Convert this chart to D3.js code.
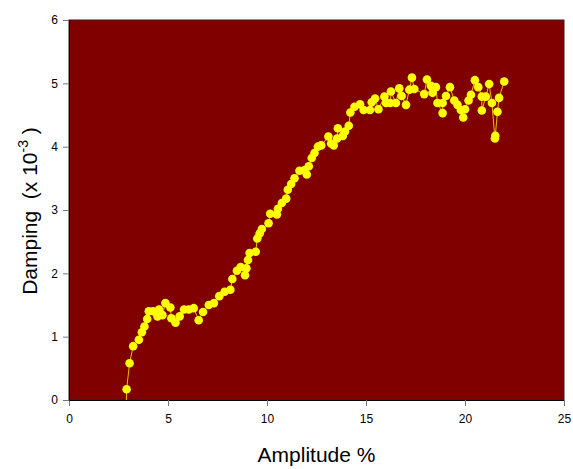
<!DOCTYPE html>
<html>
<head>
    <meta charset="utf-8" />
    <title>Damping vs amplitude</title>
    <style>
        body { margin: 0; background: #fff; }
        .tick text { font-family: Arial, "Liberation Sans", sans-serif; font-size: 12px; fill: #000; }
        .tick line { stroke: #777; }
        .domain { stroke: #000; }
    </style>
    <script src="https://cdn.jsdelivr.net/npm/d3@7"></script>
</head>
<body>
<script>
    // data
    const amplitude = [2.88, 2.91, 3.06, 3.24, 3.53, 3.68, 3.81, 3.95, 4.03, 4.25, 4.47, 4.55, 4.72, 4.87, 5.12, 5.17,
        5.38, 5.59, 5.81, 6.05, 6.30, 6.55, 6.77, 7.06, 7.32, 7.59, 7.86, 8.15, 8.25, 8.48, 8.67, 8.89, 8.96, 9.04,
        9.12, 9.43, 9.51, 9.63, 9.74, 10.08, 10.16, 10.50, 10.55, 10.75, 10.97, 11.05, 11.22, 11.39, 11.64, 11.90,
        12.01, 12.11, 12.26, 12.40, 12.57, 12.74, 13.10, 13.24, 13.37, 13.54, 13.58, 13.83, 13.94, 14.13, 14.21,
        14.42, 14.70, 14.88, 15.20, 15.29, 15.46, 15.63, 15.93, 16.01, 16.23, 16.26, 16.51, 16.68, 16.80, 17.02,
        17.19, 17.32, 17.44, 17.94, 18.08, 18.28, 18.36, 18.53, 18.61, 18.87, 18.87, 19.04, 19.24, 19.46, 19.62,
        19.79, 19.91, 20.00, 20.18, 20.30, 20.50, 20.67, 20.85, 20.85, 21.05, 21.22, 21.36, 21.51, 21.53, 21.64,
        21.72, 21.98];
    const damping = [-0.3, 0.17, 0.58, 0.85, 0.95, 1.07, 1.16, 1.28, 1.40, 1.40, 1.32, 1.43, 1.34, 1.53, 1.46, 1.29,
        1.22, 1.32, 1.43, 1.43, 1.45, 1.26, 1.39, 1.50, 1.53, 1.64, 1.71, 1.74, 1.91, 2.04, 2.10, 1.97, 2.08, 2.21,
        2.32, 2.34, 2.55, 2.63, 2.70, 2.79, 2.94, 2.93, 3.02, 3.11, 3.18, 3.32, 3.41, 3.50, 3.62, 3.63,
        3.56, 3.69, 3.82, 3.90, 4.00, 4.02, 4.16, 4.05, 4.02, 4.13, 4.29, 4.17, 4.24, 4.33, 4.54,
        4.63, 4.67, 4.58, 4.58, 4.70, 4.76, 4.59, 4.79, 4.69, 4.69, 4.87, 4.69, 4.92, 4.80, 4.66,
        4.90, 5.09, 4.91, 4.83, 5.06, 4.96, 4.85, 4.94, 4.69, 4.53, 4.69, 4.80, 4.94, 4.73, 4.66,
        4.58, 4.46, 4.59, 4.73, 4.82, 5.05, 4.94, 4.79, 4.57, 4.79, 4.99, 4.69, 4.13, 4.17, 4.55,
        4.77, 5.03];
    const xTicks = [0, 5, 10, 15, 20, 25];
    const yTicks = [0, 1, 2, 3, 4, 5, 6];

    const margin = { top: 20, right: 9, bottom: 69, left: 69 };
    const width = 573 - margin.left - margin.right,
        height = 469 - margin.top - margin.bottom;

    const data = amplitude.map((a, i) => ({ a: a, d: damping[i] }));

    const x = d3.scaleLinear().domain([0, 25]).range([0, width]);
    const y = d3.scaleLinear().domain([0, 6]).range([height, 0]);

    const svg = d3.select('body').append('svg')
        .attr('width', 573)
        .attr('height', 469)
        .append('g')
        .attr('transform', 'translate(' + margin.left + ',' + margin.top + ')');

    svg.append('clipPath').attr('id', 'plot')
        .append('rect').attr('width', width).attr('height', height);

    // plot background with thin dark frame
    svg.append('rect')
        .attr('width', width)
        .attr('height', height)
        .attr('fill', '#800000')
        .attr('stroke', '#3a1a1a')
        .attr('stroke-width', 1);

    const plot = svg.append('g').attr('clip-path', 'url(#plot)');

    const line = d3.line()
        .x(d => x(d.a))
        .y(d => y(d.d));

    plot.append('path')
        .datum(data)
        .attr('fill', 'none')
        .attr('stroke', '#e8c000')
        .attr('stroke-width', 1)
        .attr('d', line);

    plot.selectAll('circle')
        .data(data)
        .enter().append('circle')
        .attr('cx', d => x(d.a))
        .attr('cy', d => y(d.d))
        .attr('r', 4.3)
        .attr('fill', '#ffff00');

    // axes
    svg.append('g')
        .attr('transform', 'translate(0,' + height + ')')
        .call(d3.axisBottom(x).tickValues(xTicks).tickSize(6).tickPadding(8).tickFormat(d3.format('d')));

    svg.append('g')
        .call(d3.axisLeft(y).tickValues(yTicks).tickSize(6).tickPadding(5).tickFormat(d3.format('d')));

    // axis titles
    svg.append('text')
        .attr('x', width / 2)
        .attr('y', height + 62)
        .attr('text-anchor', 'middle')
        .style('font-family', 'Arial, "Liberation Sans", sans-serif')
        .style('font-size', '21px')
        .text('Amplitude %');

    const yl = svg.append('text')
        .attr('transform', 'translate(' + (-32) + ',' + (height / 2 + 1) + ') rotate(-90)')
        .attr('text-anchor', 'middle')
        .style('font-family', 'Arial, "Liberation Sans", sans-serif')
        .style('font-size', '21px');
    yl.append('tspan').text('Damping\u00a0\u00a0(x 10');
    yl.append('tspan').attr('dy', -9).style('font-size', '14px').text('-3');
    yl.append('tspan').attr('dy', 9).text('\u00a0)');
</script>
</body>
</html>
